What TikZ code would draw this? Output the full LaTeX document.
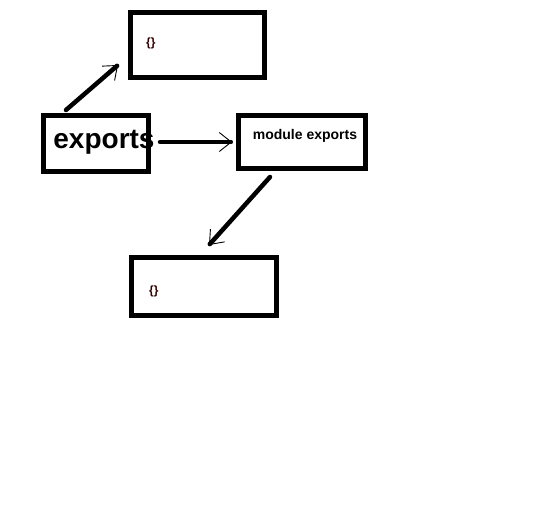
\documentclass[tikz,border=0pt]{standalone}
\usepackage{fontspec}
\setmainfont{Liberation Sans}
\usepackage{tikz}
\usetikzlibrary{arrows.meta}
\usetikzlibrary{positioning}

\begin{document}
\begin{tikzpicture}[x=1pt,y=-1pt,line cap=round,
  link/.style={line width=4.5pt,-{Straight Barb[line width=0.9pt,length=12pt,width=19pt]}},
  box/.style={draw,line width=5pt,inner sep=0pt},
  lbl/.style={inner sep=0pt,font=\bfseries}]
  \useasboundingbox (0,0) rectangle (536,504);

  \node[box,minimum width=134pt,minimum height=65pt] (obj) at (197.5,45) {};
  \node[box,minimum width=105pt,minimum height=56pt] (exp) at (96,143.5) {};
  \node[box,minimum width=127pt,minimum height=53pt] (mod) at (302,142) {};
  \node[box,minimum width=145pt,minimum height=58pt] (bot) at (204,286.5) {};

  \node[lbl,font=\fontsize{12}{14}\selectfont\bfseries,text=black!80!red] (obja) [right=18pt of obj.west,yshift=2pt] {\{\}};
  \node[lbl,font=\fontsize{28}{30}\selectfont\bfseries] (expa) at (104,142) {exports};
  \node[lbl,font=\fontsize{14}{16}\selectfont\bfseries] (moda) at (305,136) {module exports};
  \node[lbl,font=\fontsize{12}{14}\selectfont\bfseries,text=black!80!red] (bota) [right=20pt of bot.west,yshift=-5pt] {\{\}};

  \draw[link] ([xshift=25pt,yshift=3pt]exp.north west) -- ([xshift=-10pt,yshift=-20pt]obj.west);
  \draw[link] ([xshift=9pt,yshift=1.5pt]exp.east) -- ([xshift=-4pt]mod.west);
  \draw[link] ([xshift=-32pt,yshift=-6pt]mod.south) -- ([xshift=5pt,yshift=10pt]bot.north);
\end{tikzpicture}
\end{document}
